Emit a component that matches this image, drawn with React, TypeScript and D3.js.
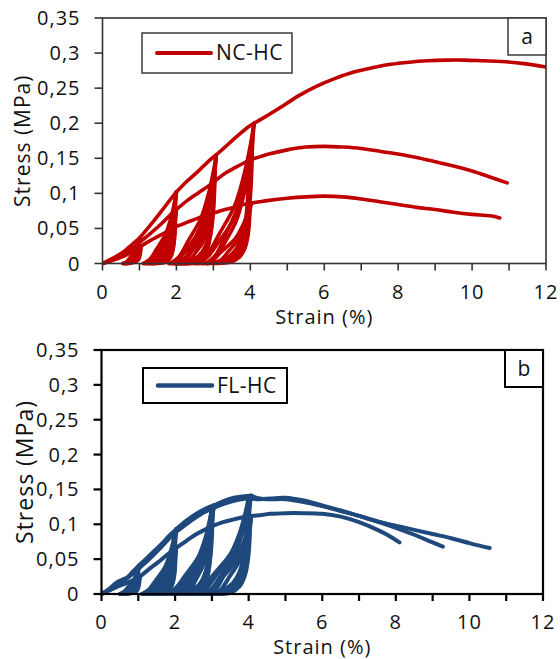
import React from "react";
import * as d3 from "d3";

type Pt = [number, number];

// axis ticks
const yTicks = [0, 0.05, 0.1, 0.15, 0.2, 0.25, 0.3, 0.35];
const yTickLabels = ["0", "0,05", "0,1", "0,15", "0,2", "0,25", "0,3", "0,35"];
const xTicks = [0, 1, 2, 3, 4, 5, 6, 7, 8, 9, 10, 11, 12];
const xTickLabels = [0, 2, 4, 6, 8, 10, 12];

// NC-HC specimens (panel a): segments in test order (loading, unloading, reloading...)
const nc1: Pt[][] = [
  [[0, 0], [0.3, 0.008], [0.6, 0.018], [0.8, 0.027], [1.0, 0.036]],
  [[1.0, 0.036], [0.978, 0.023], [0.928, 0.009], [0.753, 0.001], [0.55, 0]],
  [[0.55, 0], [0.64, 0.002], [0.735, 0.008], [0.85, 0.015], [0.928, 0.023], [0.973, 0.031], [1.0, 0.036]],
  [[1.0, 0.036], [1.3, 0.055], [1.6, 0.075], [1.85, 0.092], [2.0, 0.102]],
  [[2.0, 0.102], [1.973, 0.087], [1.955, 0.065], [1.928, 0.047], [1.856, 0.026], [1.721, 0.01], [1.505, 0.002], [1.1, 0]],
  [[1.1, 0], [1.28, 0.006], [1.469, 0.021], [1.703, 0.042], [1.856, 0.066], [1.946, 0.087], [2.0, 0.102]],
  [[2.0, 0.102], [1.979, 0.087], [1.965, 0.065], [1.944, 0.047], [1.888, 0.026], [1.783, 0.01], [1.615, 0.002], [1.3, 0]],
  [[1.3, 0], [1.44, 0.006], [1.587, 0.021], [1.769, 0.042], [1.888, 0.066], [1.958, 0.087], [2.0, 0.102]],
  [[2.0, 0.102], [2.3, 0.118], [2.6, 0.132], [2.85, 0.145], [3.08, 0.155]],
  [[3.08, 0.155], [3.042, 0.132], [3.016, 0.099], [2.978, 0.071], [2.875, 0.039], [2.683, 0.016], [2.376, 0.003], [1.8, 0]],
  [[1.8, 0], [2.056, 0.009], [2.325, 0.033], [2.658, 0.064], [2.875, 0.101], [3.003, 0.132], [3.08, 0.155]],
  [[3.08, 0.155], [3.049, 0.132], [3.029, 0.099], [2.998, 0.071], [2.915, 0.039], [2.761, 0.016], [2.514, 0.003], [2.05, 0]],
  [[2.05, 0], [2.256, 0.009], [2.472, 0.033], [2.74, 0.064], [2.915, 0.101], [3.018, 0.132], [3.08, 0.155]],
  [[3.08, 0.155], [3.4, 0.17], [3.7, 0.184], [3.95, 0.195], [4.1, 0.2]],
  [[4.1, 0.2], [4.052, 0.17], [4.02, 0.128], [3.972, 0.092], [3.844, 0.05], [3.604, 0.02], [3.22, 0.004], [2.5, 0]],
  [[2.5, 0], [2.82, 0.012], [3.156, 0.042], [3.572, 0.082], [3.844, 0.13], [4.004, 0.17], [4.1, 0.2]],
  [[4.1, 0.2], [4.061, 0.17], [4.035, 0.128], [3.996, 0.092], [3.892, 0.05], [3.697, 0.02], [3.385, 0.004], [2.8, 0]],
  [[2.8, 0], [3.06, 0.012], [3.333, 0.042], [3.671, 0.082], [3.892, 0.13], [4.022, 0.17], [4.1, 0.2]],
  [[4.1, 0.2], [4.4, 0.209], [4.8, 0.222], [5.3, 0.239], [5.8, 0.253], [6.3, 0.264], [6.8, 0.273], [7.3, 0.279], [7.8, 0.284], [8.3, 0.287], [8.8, 0.289], [9.3, 0.29], [9.8, 0.29], [10.3, 0.289], [10.8, 0.288], [11.4, 0.285], [12, 0.28]],
];

const nc2: Pt[][] = [
  [[0, 0], [0.3, 0.006], [0.6, 0.014], [0.8, 0.021], [1.0, 0.03]],
  [[1.0, 0.03], [0.979, 0.019], [0.933, 0.008], [0.769, 0.001], [0.58, 0]],
  [[0.58, 0], [0.664, 0.002], [0.752, 0.006], [0.861, 0.012], [0.933, 0.02], [0.975, 0.026], [1.0, 0.03]],
  [[1.0, 0.03], [1.3, 0.043], [1.6, 0.057], [1.85, 0.07], [2.0, 0.077]],
  [[2.0, 0.077], [1.975, 0.066], [1.958, 0.049], [1.932, 0.035], [1.864, 0.019], [1.737, 0.008], [1.533, 0.002], [1.15, 0]],
  [[1.15, 0], [1.32, 0.005], [1.499, 0.016], [1.72, 0.032], [1.864, 0.05], [1.949, 0.066], [2.0, 0.077]],
  [[2.0, 0.077], [1.981, 0.066], [1.968, 0.049], [1.948, 0.035], [1.896, 0.019], [1.799, 0.008], [1.643, 0.002], [1.35, 0]],
  [[1.35, 0], [1.48, 0.005], [1.617, 0.016], [1.786, 0.032], [1.896, 0.05], [1.961, 0.066], [2.0, 0.077]],
  [[2.0, 0.077], [2.3, 0.09], [2.6, 0.101], [2.85, 0.11], [3.03, 0.117]],
  [[3.03, 0.117], [2.995, 0.1], [2.971, 0.075], [2.936, 0.054], [2.841, 0.029], [2.664, 0.012], [2.381, 0.002], [1.85, 0]],
  [[1.85, 0], [2.086, 0.007], [2.334, 0.025], [2.641, 0.048], [2.841, 0.076], [2.959, 0.1], [3.03, 0.117]],
  [[3.03, 0.117], [3.002, 0.1], [2.984, 0.075], [2.956, 0.054], [2.881, 0.029], [2.742, 0.012], [2.519, 0.002], [2.1, 0]],
  [[2.1, 0], [2.286, 0.007], [2.481, 0.025], [2.723, 0.048], [2.881, 0.076], [2.974, 0.1], [3.03, 0.117]],
  [[3.03, 0.117], [3.3, 0.128], [3.6, 0.137], [3.85, 0.144], [4.0, 0.148]],
  [[4.0, 0.148], [3.957, 0.126], [3.928, 0.095], [3.884, 0.068], [3.768, 0.037], [3.55, 0.015], [3.203, 0.003], [2.55, 0]],
  [[2.55, 0], [2.84, 0.009], [3.145, 0.031], [3.522, 0.061], [3.768, 0.096], [3.913, 0.126], [4.0, 0.148]],
  [[4.0, 0.148], [3.966, 0.126], [3.943, 0.095], [3.908, 0.068], [3.816, 0.037], [3.644, 0.015], [3.368, 0.003], [2.85, 0]],
  [[2.85, 0], [3.08, 0.009], [3.322, 0.031], [3.621, 0.061], [3.816, 0.096], [3.931, 0.126], [4.0, 0.148]],
  [[4.0, 0.148], [4.25, 0.152], [4.5, 0.156], [5, 0.162], [5.5, 0.166], [6, 0.167], [6.5, 0.166], [7, 0.164], [7.5, 0.16], [8, 0.156], [8.5, 0.151], [9, 0.145], [9.5, 0.139], [10, 0.132], [10.5, 0.123], [10.95, 0.115]],
];

const nc3: Pt[][] = [
  [[0, 0], [0.3, 0.005], [0.6, 0.011], [0.85, 0.018], [1.05, 0.025]],
  [[1.05, 0.025], [1.029, 0.016], [0.981, 0.006], [0.814, 0.001], [0.62, 0]],
  [[0.62, 0], [0.706, 0.002], [0.796, 0.005], [0.908, 0.01], [0.981, 0.016], [1.024, 0.021], [1.05, 0.025]],
  [[1.05, 0.025], [1.3, 0.033], [1.55, 0.04], [1.8, 0.047], [1.97, 0.052]],
  [[1.97, 0.052], [1.947, 0.044], [1.932, 0.033], [1.908, 0.024], [1.847, 0.013], [1.731, 0.005], [1.547, 0.001], [1.2, 0]],
  [[1.2, 0], [1.354, 0.003], [1.516, 0.011], [1.716, 0.021], [1.847, 0.034], [1.924, 0.044], [1.97, 0.052]],
  [[1.97, 0.052], [1.953, 0.044], [1.942, 0.033], [1.924, 0.024], [1.879, 0.013], [1.793, 0.005], [1.657, 0.001], [1.4, 0]],
  [[1.4, 0], [1.514, 0.003], [1.634, 0.011], [1.782, 0.021], [1.879, 0.034], [1.936, 0.044], [1.97, 0.052]],
  [[1.97, 0.052], [2.25, 0.058], [2.5, 0.063], [2.75, 0.068], [2.95, 0.071]],
  [[2.95, 0.071], [2.92, 0.06], [2.9, 0.045], [2.87, 0.033], [2.79, 0.018], [2.64, 0.007], [2.4, 0.001], [1.95, 0]],
  [[1.95, 0], [2.15, 0.004], [2.36, 0.015], [2.62, 0.029], [2.79, 0.046], [2.89, 0.06], [2.95, 0.071]],
  [[2.95, 0.071], [2.928, 0.06], [2.913, 0.045], [2.89, 0.033], [2.83, 0.018], [2.718, 0.007], [2.538, 0.001], [2.2, 0]],
  [[2.2, 0], [2.35, 0.004], [2.508, 0.015], [2.703, 0.029], [2.83, 0.046], [2.905, 0.06], [2.95, 0.071]],
  [[2.95, 0.071], [3.25, 0.076], [3.55, 0.08], [3.8, 0.084], [4.02, 0.086]],
  [[4.02, 0.086], [3.98, 0.073], [3.954, 0.055], [3.914, 0.04], [3.809, 0.022], [3.611, 0.009], [3.294, 0.002], [2.7, 0]],
  [[2.7, 0], [2.964, 0.005], [3.241, 0.018], [3.584, 0.035], [3.809, 0.056], [3.941, 0.073], [4.02, 0.086]],
  [[4.02, 0.086], [3.989, 0.073], [3.969, 0.055], [3.938, 0.04], [3.857, 0.022], [3.704, 0.009], [3.459, 0.002], [3.0, 0]],
  [[3.0, 0], [3.204, 0.005], [3.418, 0.018], [3.683, 0.035], [3.857, 0.056], [3.959, 0.073], [4.02, 0.086]],
  [[4.02, 0.086], [4.25, 0.088], [4.5, 0.09], [5, 0.093], [5.5, 0.095], [6, 0.096], [6.5, 0.095], [7, 0.092], [7.5, 0.088], [8, 0.084], [8.5, 0.08], [9, 0.077], [9.5, 0.073], [10, 0.07], [10.5, 0.068], [10.75, 0.065]],
];

// FL-HC specimens (panel b)
const fl1: Pt[][] = [
  [[0, 0], [0.2, 0.007], [0.4, 0.016], [0.55, 0.02], [0.7, 0.024], [0.85, 0.032], [1.02, 0.041]],
  [[1.02, 0.041], [1.004, 0.035], [0.994, 0.026], [0.978, 0.019], [0.937, 0.01], [0.859, 0.004], [0.734, 0.001], [0.5, 0]],
  [[0.5, 0], [0.604, 0.003], [0.713, 0.009], [0.848, 0.017], [0.937, 0.027], [0.989, 0.035], [1.02, 0.041]],
  [[1.02, 0.041], [1.3, 0.055], [1.6, 0.07], [1.85, 0.084], [2.03, 0.093]],
  [[2.03, 0.093], [2.002, 0.079], [1.984, 0.06], [1.956, 0.043], [1.881, 0.023], [1.742, 0.009], [1.519, 0.002], [1.1, 0]],
  [[1.1, 0], [1.286, 0.006], [1.481, 0.02], [1.723, 0.038], [1.881, 0.061], [1.974, 0.079], [2.03, 0.093]],
  [[2.03, 0.093], [2.01, 0.079], [1.996, 0.06], [1.976, 0.043], [1.921, 0.023], [1.819, 0.009], [1.656, 0.002], [1.35, 0]],
  [[1.35, 0], [1.486, 0.006], [1.629, 0.02], [1.806, 0.038], [1.921, 0.061], [1.989, 0.079], [2.03, 0.093]],
  [[2.03, 0.093], [2.3, 0.105], [2.6, 0.116], [2.85, 0.123], [3.05, 0.127]],
  [[3.05, 0.127], [3.011, 0.108], [2.985, 0.081], [2.946, 0.058], [2.842, 0.032], [2.647, 0.013], [2.335, 0.003], [1.75, 0]],
  [[1.75, 0], [2.01, 0.008], [2.283, 0.027], [2.621, 0.052], [2.842, 0.083], [2.972, 0.108], [3.05, 0.127]],
  [[3.05, 0.127], [3.02, 0.108], [3.0, 0.081], [2.97, 0.058], [2.89, 0.032], [2.74, 0.013], [2.5, 0.003], [2.05, 0]],
  [[2.05, 0], [2.25, 0.008], [2.46, 0.027], [2.72, 0.052], [2.89, 0.083], [2.99, 0.108], [3.05, 0.127]],
  [[3.05, 0.127], [3.3, 0.133], [3.6, 0.138], [3.85, 0.14], [4.06, 0.141]],
  [[4.06, 0.141], [4.01, 0.12], [3.977, 0.09], [3.927, 0.065], [3.794, 0.035], [3.545, 0.014], [3.147, 0.003], [2.4, 0]],
  [[2.4, 0], [2.732, 0.009], [3.081, 0.03], [3.512, 0.058], [3.794, 0.092], [3.96, 0.12], [4.06, 0.141]],
  [[4.06, 0.141], [4.021, 0.12], [3.995, 0.09], [3.955, 0.065], [3.85, 0.035], [3.654, 0.014], [3.34, 0.003], [2.75, 0]],
  [[2.75, 0], [3.012, 0.009], [3.287, 0.03], [3.628, 0.058], [3.85, 0.092], [3.981, 0.12], [4.06, 0.141]],
  [[4.06, 0.141], [4.3, 0.137], [4.6, 0.136], [5, 0.136], [5.5, 0.132], [6, 0.126], [6.5, 0.119], [7, 0.112], [7.5, 0.104], [8, 0.098], [8.5, 0.092], [9, 0.086], [9.5, 0.08], [10, 0.073], [10.3, 0.069], [10.55, 0.066]],
];

const fl2: Pt[][] = [
  [[0, 0], [0.2, 0.006], [0.4, 0.014], [0.6, 0.019], [0.8, 0.027], [1.0, 0.036]],
  [[1.0, 0.036], [0.987, 0.031], [0.978, 0.023], [0.964, 0.017], [0.928, 0.009], [0.861, 0.004], [0.753, 0.001], [0.55, 0]],
  [[0.55, 0], [0.64, 0.002], [0.735, 0.008], [0.852, 0.015], [0.928, 0.023], [0.973, 0.031], [1.0, 0.036]],
  [[1.0, 0.036], [1.3, 0.05], [1.6, 0.066], [1.85, 0.08], [2.0, 0.088]],
  [[2.0, 0.088], [1.976, 0.075], [1.96, 0.056], [1.936, 0.041], [1.872, 0.022], [1.752, 0.009], [1.56, 0.002], [1.2, 0]],
  [[1.2, 0], [1.36, 0.005], [1.528, 0.019], [1.736, 0.036], [1.872, 0.057], [1.952, 0.075], [2.0, 0.088]],
  [[2.0, 0.088], [1.984, 0.075], [1.973, 0.056], [1.956, 0.041], [1.912, 0.022], [1.83, 0.009], [1.698, 0.002], [1.45, 0]],
  [[1.45, 0], [1.56, 0.005], [1.676, 0.019], [1.819, 0.036], [1.912, 0.057], [1.967, 0.075], [2.0, 0.088]],
  [[2.0, 0.088], [2.3, 0.1], [2.6, 0.111], [2.82, 0.118], [3.0, 0.122]],
  [[3.0, 0.122], [2.967, 0.104], [2.945, 0.078], [2.912, 0.056], [2.824, 0.031], [2.659, 0.012], [2.395, 0.002], [1.9, 0]],
  [[1.9, 0], [2.12, 0.007], [2.351, 0.026], [2.637, 0.05], [2.824, 0.079], [2.934, 0.104], [3.0, 0.122]],
  [[3.0, 0.122], [2.975, 0.104], [2.958, 0.078], [2.932, 0.056], [2.864, 0.031], [2.737, 0.012], [2.533, 0.002], [2.15, 0]],
  [[2.15, 0], [2.32, 0.007], [2.499, 0.026], [2.72, 0.05], [2.864, 0.079], [2.949, 0.104], [3.0, 0.122]],
  [[3.0, 0.122], [3.25, 0.128], [3.55, 0.133], [3.8, 0.136], [4.0, 0.137]],
  [[4.0, 0.137], [3.957, 0.117], [3.928, 0.088], [3.884, 0.063], [3.768, 0.034], [3.55, 0.014], [3.203, 0.003], [2.55, 0]],
  [[2.55, 0], [2.84, 0.008], [3.145, 0.029], [3.522, 0.056], [3.768, 0.089], [3.913, 0.117], [4.0, 0.137]],
  [[4.0, 0.137], [3.967, 0.117], [3.945, 0.088], [3.912, 0.063], [3.824, 0.034], [3.659, 0.014], [3.395, 0.003], [2.9, 0]],
  [[2.9, 0], [3.12, 0.008], [3.351, 0.029], [3.637, 0.056], [3.824, 0.089], [3.934, 0.117], [4.0, 0.137]],
  [[4.0, 0.137], [4.3, 0.136], [4.6, 0.137], [5, 0.138], [5.5, 0.134], [6, 0.127], [6.5, 0.12], [7, 0.112], [7.5, 0.104], [8, 0.095], [8.5, 0.085], [9, 0.074], [9.28, 0.068]],
];

const fl3: Pt[][] = [
  [[0, 0], [0.25, 0.006], [0.5, 0.012], [0.75, 0.017], [1.05, 0.025]],
  [[1.05, 0.025], [1.037, 0.021], [1.028, 0.016], [1.014, 0.012], [0.978, 0.006], [0.911, 0.003], [0.803, 0.001], [0.6, 0]],
  [[0.6, 0], [0.69, 0.002], [0.785, 0.005], [0.902, 0.01], [0.978, 0.016], [1.023, 0.021], [1.05, 0.025]],
  [[1.05, 0.025], [1.3, 0.036], [1.55, 0.046], [1.8, 0.057], [2.03, 0.066]],
  [[2.03, 0.066], [2.008, 0.056], [1.994, 0.042], [1.972, 0.03], [1.913, 0.017], [1.804, 0.007], [1.629, 0.001], [1.3, 0]],
  [[1.3, 0], [1.446, 0.004], [1.599, 0.014], [1.789, 0.027], [1.913, 0.043], [1.986, 0.056], [2.03, 0.066]],
  [[2.03, 0.066], [2.014, 0.056], [2.004, 0.042], [1.988, 0.03], [1.945, 0.017], [1.866, 0.007], [1.739, 0.001], [1.5, 0]],
  [[1.5, 0], [1.606, 0.004], [1.717, 0.014], [1.855, 0.027], [1.945, 0.043], [1.998, 0.056], [2.03, 0.066]],
  [[2.03, 0.066], [2.3, 0.076], [2.55, 0.085], [2.8, 0.092], [3.0, 0.097]],
  [[3.0, 0.097], [2.97, 0.083], [2.95, 0.062], [2.92, 0.045], [2.84, 0.024], [2.69, 0.01], [2.45, 0.002], [2.0, 0]],
  [[2.0, 0], [2.2, 0.006], [2.41, 0.02], [2.67, 0.04], [2.84, 0.063], [2.94, 0.083], [3.0, 0.097]],
  [[3.0, 0.097], [2.978, 0.083], [2.963, 0.062], [2.94, 0.045], [2.88, 0.024], [2.768, 0.01], [2.588, 0.002], [2.25, 0]],
  [[2.25, 0], [2.4, 0.006], [2.558, 0.02], [2.753, 0.04], [2.88, 0.063], [2.955, 0.083], [3.0, 0.097]],
  [[3.0, 0.097], [3.3, 0.103], [3.6, 0.107], [3.85, 0.11], [4.07, 0.112]],
  [[4.07, 0.112], [4.03, 0.095], [4.004, 0.072], [3.964, 0.052], [3.859, 0.028], [3.661, 0.011], [3.344, 0.002], [2.75, 0]],
  [[2.75, 0], [3.014, 0.007], [3.291, 0.024], [3.634, 0.046], [3.859, 0.073], [3.991, 0.095], [4.07, 0.112]],
  [[4.07, 0.112], [4.039, 0.095], [4.019, 0.072], [3.988, 0.052], [3.907, 0.028], [3.754, 0.011], [3.509, 0.002], [3.05, 0]],
  [[3.05, 0], [3.254, 0.007], [3.468, 0.024], [3.733, 0.046], [3.907, 0.073], [4.009, 0.095], [4.07, 0.112]],
  [[4.07, 0.112], [4.3, 0.113], [4.6, 0.115], [5, 0.116], [5.5, 0.116], [6, 0.115], [6.5, 0.111], [7, 0.103], [7.5, 0.092], [7.8, 0.084], [8.1, 0.074]],
];

const FONT = "'Open Sans', sans-serif";

interface PanelProps {
  id: string;
  left: number;
  right: number;
  top: number;
  bottom: number;
  specimens: Pt[][][];
  color: string;
  lineWidth: number;
  frameColor: string;
  frameWidth: number;
  name: string;
  tag: string;
  legend: { x: number; y: number; w: number; h: number };
  tagBox: { w: number; h: number };
  yTitle: { x: number; size: number };
}

const Panel: React.FC<PanelProps> = ({
  id, left, right, top, bottom, specimens, color, lineWidth, frameColor, frameWidth,
  name, tag, legend, tagBox, yTitle,
}) => {
  const x = d3.scaleLinear().domain([0, 12]).range([left, right]);
  const y = d3.scaleLinear().domain([0, 0.35]).range([bottom, top]);

  const line = d3
    .line<Pt>()
    .x((d) => x(d[0]))
    .y((d) => y(d[1]))
    .curve(d3.curveCatmullRom.alpha(0.5));

  const midY = (top + bottom) / 2;
  const midX = (left + right) / 2;

  return (
    <g>
      <defs>
        <clipPath id={`clip-${id}`}>
          <rect x={left} y={top - 3} width={right - left} height={bottom - top + 6} />
        </clipPath>
      </defs>

      {/* curves */}
      <g clipPath={`url(#clip-${id})`}>
        {specimens.map((segs, i) =>
          segs.map((seg, j) => (
            <path
              key={`${i}-${j}`}
              d={line(seg) || ""}
              fill="none"
              stroke={color}
              strokeWidth={lineWidth}
              strokeLinecap="round"
              strokeLinejoin="round"
            />
          ))
        )}
      </g>

      {/* frame */}
      <rect
        x={left}
        y={top}
        width={right - left}
        height={bottom - top}
        fill="none"
        stroke={frameColor}
        strokeWidth={frameWidth}
      />

      {/* y axis */}
      {yTicks.map((t, i) => (
        <g key={`y${i}`}>
          <line x1={left - 8} x2={left} y1={y(t)} y2={y(t)} stroke={frameColor} strokeWidth={frameWidth} />
          <text
            x={left - 22}
            y={y(t) + 7}
            textAnchor="end"
            fontFamily={FONT}
            fontSize={20}
            letterSpacing={1}
            fill="#111"
          >
            {yTickLabels[i]}
          </text>
        </g>
      ))}

      {/* x axis */}
      {xTicks.map((t) => (
        <line
          key={`x${t}`}
          x1={x(t)}
          x2={x(t)}
          y1={bottom}
          y2={bottom + 7}
          stroke={frameColor}
          strokeWidth={frameWidth}
        />
      ))}
      {xTickLabels.map((t) => (
        <text
          key={`xl${t}`}
          x={x(t)}
          y={bottom + 35}
          textAnchor="middle"
          fontFamily={FONT}
          fontSize={20}
          letterSpacing={1}
          fill="#111"
        >
          {t}
        </text>
      ))}

      {/* axis titles */}
      <text
        x={midX}
        y={bottom + 60}
        textAnchor="middle"
        fontFamily={FONT}
        fontSize={20}
        letterSpacing={1}
        fill="#111"
      >
        Strain (%)
      </text>
      <text
        transform={`translate(${yTitle.x},${midY}) rotate(-90)`}
        textAnchor="middle"
        dominantBaseline="central"
        fontFamily={FONT}
        fontSize={yTitle.size}
        letterSpacing={1}
        fill="#111"
      >
        Stress (MPa)
      </text>

      {/* legend */}
      <rect
        x={legend.x}
        y={legend.y}
        width={legend.w}
        height={legend.h}
        fill="#fff"
        stroke={frameColor}
        strokeWidth={frameWidth * 0.9}
      />
      <line
        x1={legend.x + 15}
        x2={legend.x + 69}
        y1={legend.y + legend.h / 2}
        y2={legend.y + legend.h / 2}
        stroke={color}
        strokeWidth={lineWidth + 0.5}
        strokeLinecap="round"
      />
      <text
        x={legend.x + 74}
        y={legend.y + legend.h / 2 + 7}
        fontFamily={FONT}
        fontSize={21}
        letterSpacing={0.5}
        fill="#111"
      >
        {name}
      </text>

      {/* panel tag */}
      <rect
        x={right - tagBox.w}
        y={top}
        width={tagBox.w}
        height={tagBox.h}
        fill="#fff"
        stroke={frameColor}
        strokeWidth={frameWidth * 0.9}
      />
      <text
        x={right - tagBox.w / 2}
        y={top + tagBox.h / 2 + 7}
        textAnchor="middle"
        fontFamily={FONT}
        fontSize={21}
        fill="#111"
      >
        {tag}
      </text>
    </g>
  );
};

export default function App() {
  return (
    <svg
      width={560}
      height={659}
      style={{ position: "absolute", left: 0, top: 0, background: "#fff" }}
    >
      <rect width={560} height={659} fill="#fff" />
      <Panel
        id="a"
        left={102.5}
        right={546}
        top={18}
        bottom={263.5}
        specimens={[nc3, nc2, nc1]}
        color="#C00000"
        lineWidth={3.6}
        frameColor="#333"
        frameWidth={1.6}
        name="NC-HC"
        tag="a"
        legend={{ x: 142, y: 33, w: 150, h: 40 }}
        tagBox={{ w: 38, h: 37 }}
        yTitle={{ x: 22, size: 21 }}
      />
      <Panel
        id="b"
        left={101.5}
        right={543}
        top={350}
        bottom={594}
        specimens={[fl3, fl2, fl1]}
        color="#1F497D"
        lineWidth={4}
        frameColor="#000"
        frameWidth={2.2}
        name="FL-HC"
        tag="b"
        legend={{ x: 143, y: 368, w: 144, h: 35 }}
        tagBox={{ w: 38, h: 37 }}
        yTitle={{ x: 24, size: 23 }}
      />
    </svg>
  );
}
